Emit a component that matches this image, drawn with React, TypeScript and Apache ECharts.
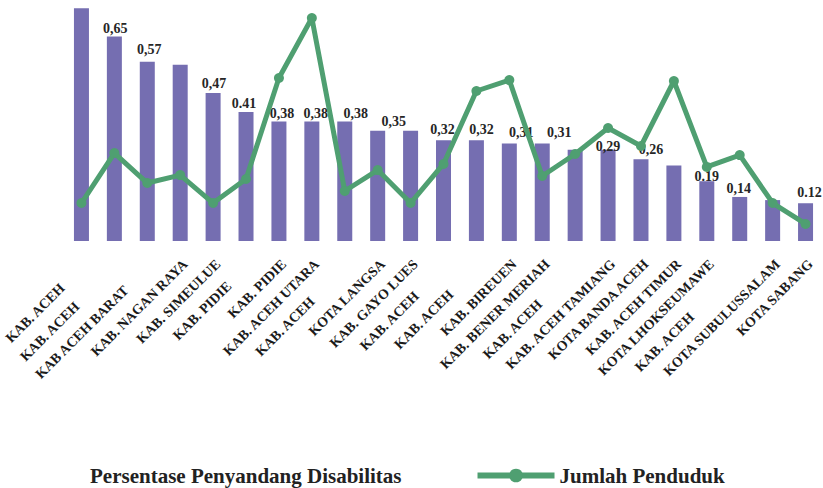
import React, { useEffect, useRef } from 'react';
import * as echarts from 'echarts';

const categories = [
  'KAB. ACEH', 'KAB. ACEH', 'KAB ACEH BARAT', 'KAB. NAGAN RAYA', 'KAB. SIMEULUE',
  'KAB. PIDIE', 'KAB. PIDIE', 'KAB. ACEH UTARA', 'KAB. ACEH', 'KOTA LANGSA',
  'KAB. GAYO LUES', 'KAB. ACEH', 'KAB. ACEH', 'KAB. BIREUEN', 'KAB. BENER MERIAH',
  'KAB. ACEH', 'KAB. ACEH TAMIANG', 'KOTA BANDA ACEH', 'KAB. ACEH TIMUR', 'KOTA LHOKSEUMAWE',
  'KAB. ACEH', 'KOTA SUBULUSSALAM', 'KOTA SABANG',
];

const disabilityPct = [
  0.74, 0.65, 0.57, 0.56, 0.47, 0.41, 0.38, 0.38, 0.38, 0.35, 0.35, 0.32,
  0.32, 0.31, 0.31, 0.29, 0.29, 0.26, 0.24, 0.19, 0.14, 0.13, 0.12,
];

const population = [
  102500, 237500, 156500, 178000, 102500, 167500, 440000, 602000, 135000, 191500,
  102500, 208000, 405000, 434500, 175500, 235000, 305000, 256500, 432000, 200000,
  232000, 102500, 46000,
];

const barLabels = [
  '', '0,65', '0,57', '', '0,47', '0.41', '0,38', '0,38', '0,38', '0,35', '', '0,32',
  '0,32', '0,31', '0,31', '', '0,29', '0,26', '', '0.19', '0,14', '', '0.12',
];

const legendNames = ['Persentase Penyandang Disabilitas', 'Jumlah Penduduk'];

// layout only: shifts of the value labels and of the category labels
const labelShift = [
  [0, 0], [1, 0], [2, -4], [0, 0], [1, -2], [-2, 0], [3, 0], [4, 0], [11, 0], [16, -1], [0, 0], [-1, -3],
  [5, -3], [12, -3], [17, -3], [0, 0], [0, 5], [10, -2], [0, 0], [0, 3], [-1, 0], [0, 0], [4, -3],
];
const categoryPad = [34, 60, 37, 0, 0, 31, 0, 0, 53, 0, 0, 45, 43, 0, 0, 57, 0, 0, 0, 0, 75, 0, 0];

const SERIF = '"Liberation Serif", "Times New Roman", serif';
const PURPLE = '#756eb1';
const GREEN = '#4f9f71';

export default function App() {
  const ref = useRef<HTMLDivElement>(null);

  useEffect(() => {
    const chart = echarts.init(ref.current!, null, { renderer: 'svg' });
    const rich: Record<string, any> = {};
    categoryPad.forEach((p, i) => {
      rich['p' + i] = {
        padding: [0, p, 0, 0],
        fontSize: 14,
        fontWeight: 'bold',
        fontFamily: SERIF,
        color: '#1a1a1a',
      };
    });

    chart.setOption({
      animation: false,
      backgroundColor: '#ffffff',
      grid: { left: 65, right: 1, top: 5, bottom: 247, containLabel: false },
      legend: {
        left: 3,
        top: 460,
        itemWidth: 77,
        itemHeight: 17,
        itemGap: 73,
        textStyle: { fontFamily: SERIF, fontWeight: 'bold', fontSize: 21, color: '#222222' },
        lineStyle: { width: 6 },
        data: [
          { name: legendNames[0], icon: 'none' },
          { name: legendNames[1] },
        ],
      },
      xAxis: {
        type: 'category',
        data: categories,
        axisLine: { show: false },
        axisTick: { show: false },
        splitLine: { show: false },
        axisLabel: {
          interval: 0,
          rotate: 45,
          margin: 16,
          verticalAlign: 'top',
          fontSize: 14,
          fontWeight: 'bold',
          fontFamily: SERIF,
          color: '#1a1a1a',
          formatter: (v: string, i: number) => `{p${i}|${v}}`,
          rich,
        },
      },
      yAxis: [
        { type: 'value', min: 0, max: 0.75, show: false, splitLine: { show: false } },
        { type: 'value', min: 0, max: 637200, show: false, splitLine: { show: false } },
      ],
      series: [
        {
          name: legendNames[0],
          type: 'bar',
          barWidth: 15,
          yAxisIndex: 0,
          itemStyle: { color: PURPLE },
          label: {
            show: true,
            position: 'top',
            distance: 1,
            fontSize: 14,
            fontWeight: 'bold',
            fontFamily: SERIF,
            color: '#262626',
          },
          data: disabilityPct.map((v, i) => ({
            value: v,
            label: {
              show: barLabels[i] !== '',
              formatter: barLabels[i],
              offset: labelShift[i],
            },
          })),
        },
        {
          name: legendNames[1],
          type: 'line',
          yAxisIndex: 1,
          symbol: 'circle',
          symbolSize: 10,
          lineStyle: { color: GREEN, width: 5 },
          itemStyle: { color: GREEN },
          data: population,
        },
      ],
    });
    return () => chart.dispose();
  }, []);

  return (
    <div
      ref={ref}
      style={{ position: 'absolute', left: 0, top: 0, width: 823, height: 488, background: '#fff' }}
    />
  );
}
